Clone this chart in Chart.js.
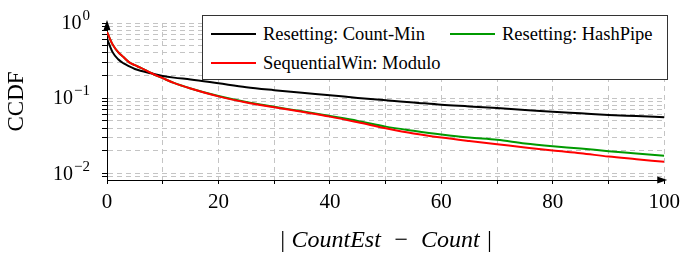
<!DOCTYPE html>
<html>
<head>
<meta charset="utf-8">
<script src="https://cdn.jsdelivr.net/npm/chart.js@4"></script>
<style>
  html, body { margin: 0; padding: 0; background: #fff; }
  #wrap { position: relative; width: 686px; height: 253px; }
  #legend {
    position: absolute; left: 202px; top: 15px; width: 466px; height: 65px;
    box-sizing: border-box; border: 1px solid #333; background: #fff;
    font-family: "Liberation Serif", serif; font-size: 18.5px; color: #000;
  }
  #legend .ln { position: absolute; width: 45px; height: 0; border-top: 2px solid; }
  #legend .tx { position: absolute; line-height: 20px; white-space: nowrap; }
</style>
</head>
<body>
<div id="wrap">
  <canvas id="ccdf-chart" width="686" height="253"></canvas>
  <div id="legend"></div>
</div>
<script>
// |CountEst - Count| on the x axis, CCDF (log) on the y axis
var errValues = [0, 1, 2, 3, 4, 5, 6, 8, 10, 12, 15, 20, 25, 30, 35, 40, 45, 50,
                 55, 60, 65, 70, 75, 80, 85, 90, 95, 100];

var countMin = [0.62, 0.41, 0.33, 0.29, 0.265, 0.245, 0.232, 0.214, 0.198, 0.188,
                0.178, 0.158, 0.14, 0.128, 0.118, 0.11, 0.101, 0.094, 0.088, 0.082,
                0.078, 0.074, 0.070, 0.066, 0.063, 0.060, 0.058, 0.056];

var hashPipe = [0.76, 0.52, 0.41, 0.35, 0.30, 0.275, 0.255, 0.215, 0.185, 0.16,
                0.135, 0.107, 0.089, 0.077, 0.067, 0.058, 0.050, 0.042, 0.037, 0.033,
                0.030, 0.028, 0.025, 0.023, 0.0215, 0.0198, 0.0185, 0.0172];

var modulo = [0.76, 0.52, 0.41, 0.35, 0.30, 0.275, 0.255, 0.215, 0.185, 0.16,
              0.135, 0.106, 0.088, 0.076, 0.066, 0.057, 0.048, 0.040, 0.034, 0.030,
              0.027, 0.0245, 0.0222, 0.0202, 0.0186, 0.0168, 0.0155, 0.0143];

var seriesNames = ['Resetting: Count-Min', 'Resetting: HashPipe', 'SequentialWin: Modulo'];
var seriesColors = ['#000000', '#009a00', '#ff0000'];

var yMin = 0.0082, yMax = 1;
// decade labels: value, base, exponent
var decadeTicks = [1, 0.1, 0.01];
var decadeExps = ['0', '\u22121', '\u22122'];

function pts(ys) {
  return errValues.map(function (x, i) { return { x: x, y: ys[i] }; });
}

var serif = '"Liberation Serif", serif';

// axis arrows + 10^k labels with a real superscript
var extras = {
  id: 'extras',
  afterDraw: function (chart) {
    var a = chart.chartArea, ctx = chart.ctx;
    ctx.save();
    ctx.fillStyle = '#000';
    ctx.beginPath();
    ctx.moveTo(a.left, a.top - 3);
    ctx.lineTo(a.left - 3.5, a.top + 7);
    ctx.lineTo(a.left + 3.5, a.top + 7);
    ctx.closePath();
    ctx.fill();
    ctx.beginPath();
    ctx.moveTo(a.right + 3, a.bottom);
    ctx.lineTo(a.right - 7, a.bottom - 3.5);
    ctx.lineTo(a.right - 7, a.bottom + 3.5);
    ctx.closePath();
    ctx.fill();

    var ys = chart.scales.y, right = 90;
    ctx.textBaseline = 'alphabetic';
    ctx.textAlign = 'left';
    decadeTicks.forEach(function (v, i) {
      var py = ys.getPixelForValue(v);
      ctx.font = '15px ' + serif;
      var ew = ctx.measureText(decadeExps[i]).width;
      ctx.font = '20px ' + serif;
      var bw = ctx.measureText('10').width;
      var x0 = right - ew - bw - 1;
      ctx.fillText('10', x0, py + 6);
      ctx.font = '15px ' + serif;
      ctx.fillText(decadeExps[i], x0 + bw + 1, py - 3);
    });
    ctx.restore();
  }
};

new Chart(document.getElementById('ccdf-chart'), {
  type: 'line',
  data: {
    datasets: [
      { label: seriesNames[0], data: pts(countMin), borderColor: seriesColors[0], order: 1 },
      { label: seriesNames[1], data: pts(hashPipe), borderColor: seriesColors[1], order: 2 },
      { label: seriesNames[2], data: pts(modulo), borderColor: seriesColors[2], order: 0 }
    ]
  },
  options: {
    responsive: false,
    animation: false,
    layout: { padding: { top: 15, right: 19, left: 0, bottom: 0 } },
    elements: {
      line: { borderWidth: 2, cubicInterpolationMode: 'monotone', fill: false },
      point: { radius: 0 }
    },
    plugins: { legend: { display: false }, tooltip: { enabled: false } },
    scales: {
      x: {
        type: 'linear', min: 0, max: 100,
        afterFit: function (s) { s.height = 73; },
        grid: { color: '#c4c4c4', tickLength: 4, tickColor: '#000' },
        border: { display: true, color: '#000', width: 1, dash: [5, 4] },
        ticks: {
          stepSize: 10, color: '#000', padding: 6, maxRotation: 0,
          font: { family: serif, size: 21 },
          callback: function (v) { return v % 20 === 0 ? String(v) : ''; }
        },
        title: {
          display: true, text: '| CountEst  \u2212  Count |', color: '#000',
          padding: { top: 0, bottom: 0 },
          font: { family: serif, size: 24, style: 'italic', lineHeight: 1 }
        }
      },
      y: {
        type: 'logarithmic', min: yMin, max: yMax,
        afterFit: function (s) { s.width = 107; },
        afterBuildTicks: function (s) {
          var t = [];
          for (var e = -3; e <= 0; e++) {
            for (var m = 1; m <= 9; m++) {
              var v = +(m * Math.pow(10, e)).toPrecision(3);
              if (v >= yMin && v <= yMax) t.push({ value: v });
            }
          }
          s.ticks = t;
        },
        grid: { color: '#c4c4c4', tickLength: 5, tickColor: '#000' },
        border: { display: true, color: '#000', width: 1, dash: [5, 4] },
        ticks: {
          autoSkip: false, color: '#000', padding: 11,
          font: { family: serif, size: 20 },
          callback: function () { return ''; }
        },
        title: {
          display: true, text: 'CCDF', color: '#000',
          padding: { top: 3, bottom: 0 },
          font: { family: serif, size: 23 }
        }
      }
    }
  },
  plugins: [extras]
});

// legend box drawn over the plot
var legendSpots = [[8, 60, 18], [247, 299, 18], [8, 60, 47]];
var legend = document.getElementById('legend');
seriesNames.forEach(function (name, i) {
  var p = legendSpots[i];
  var ln = document.createElement('div');
  ln.className = 'ln';
  ln.style.left = p[0] + 'px';
  ln.style.top = (p[2] - 1) + 'px';
  ln.style.borderColor = seriesColors[i];
  var tx = document.createElement('div');
  tx.className = 'tx';
  tx.style.left = p[1] + 'px';
  tx.style.top = (p[2] - 10) + 'px';
  tx.textContent = name;
  legend.appendChild(ln);
  legend.appendChild(tx);
});
</script>
</body>
</html>
